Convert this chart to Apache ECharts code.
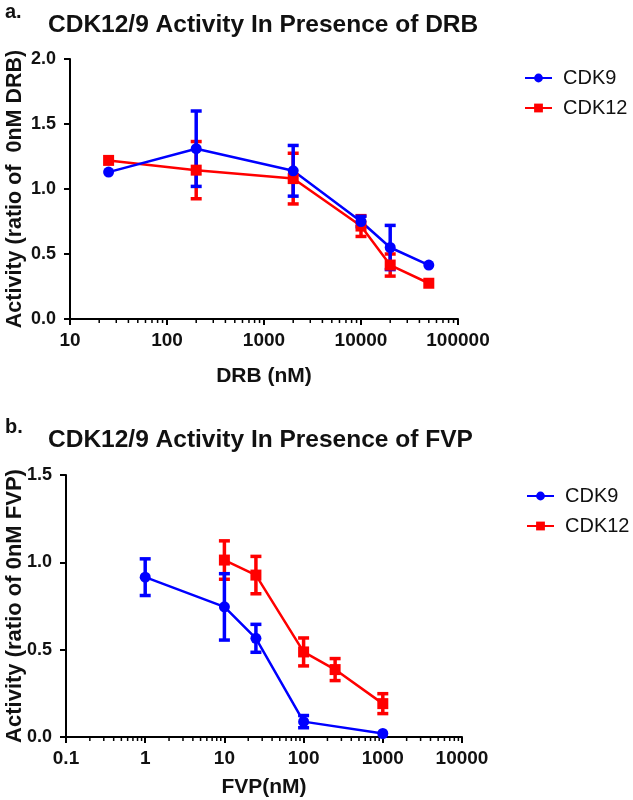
<!DOCTYPE html>
<html><head><meta charset="utf-8">
<script src="https://cdn.jsdelivr.net/npm/echarts@6/dist/echarts.min.js"></script>
<style>html,body{margin:0;padding:0;background:#fff}#c{width:633px;height:800px}</style>
</head><body><div id="c"></div>
<script>
// ---- Panel a: DRB ----
const drbDoses = [25, 200, 2000, 10000, 20000, 50000];
const drbCdk9 = [1.13, 1.31, 1.14, 0.75, 0.55, 0.415];
const drbCdk9Err = [0, 0.29, 0.195, 0.04, 0.17, 0];
const drbCdk12 = [1.22, 1.145, 1.08, 0.715, 0.415, 0.275];
const drbCdk12Err = [0, 0.22, 0.195, 0.08, 0.085, 0];
const drbDecades = [10, 100, 1000, 10000];
// ---- Panel b: FVP ----
const fvpDosesCdk9 = [1, 10, 25, 100, 1000];
const fvpCdk9 = [0.915, 0.745, 0.565, 0.088, 0.02];
const fvpCdk9Err = [0.105, 0.19, 0.08, 0.035, 0];
const fvpDosesCdk12 = [10, 25, 100, 250, 1000];
const fvpCdk12 = [1.013, 0.927, 0.487, 0.386, 0.191];
const fvpCdk12Err = [0.11, 0.107, 0.08, 0.063, 0.057];
const fvpDecades = [0.1, 1, 10, 100, 1000];
const minorMult = [2, 3, 4, 5, 6, 7, 8, 9];
const seriesNames = ['CDK9', 'CDK12'];
const titles = ['CDK12/9 Activity In Presence of DRB', 'CDK12/9 Activity In Presence of FVP'];
const xNames = ['DRB (nM)', 'FVP(nM)'];
const yNames = ['Activity (ratio of  0nM DRB)', 'Activity (ratio of 0nM FVP)'];

const F = 'Liberation Sans, Arial, Helvetica, sans-serif';
const BLUE = '#0000ff', RED = '#ff0000', INK = '#111';

function pairs(xs, ys) { return xs.map((x, i) => [x, ys[i]]); }
function triples(xs, ys, es) { return xs.map((x, i) => [x, ys[i], es[i]]); }
function minorTicks(decs) {
  const out = [];
  decs.forEach(d => minorMult.forEach(m => out.push([+(d * m).toPrecision(3), 0])));
  return out;
}
function fmtLog(v) { return v >= 1 ? String(Math.round(v)) : String(+v.toPrecision(1)); }

function errRender(color) {
  return function (params, api) {
    const x = api.value(0), y = api.value(1), e = api.value(2);
    if (!e) return null;
    const t = api.coord([x, y + e]), b = api.coord([x, y - e]);
    const hw = 5.5;
    const st = { stroke: color, lineWidth: 3.5 };
    return { type: 'group', children: [
      { type: 'line', shape: { x1: t[0], y1: t[1], x2: b[0], y2: b[1] }, style: st },
      { type: 'line', shape: { x1: t[0] - hw, y1: t[1], x2: t[0] + hw, y2: t[1] }, style: st },
      { type: 'line', shape: { x1: b[0] - hw, y1: b[1], x2: b[0] + hw, y2: b[1] }, style: st }
    ]};
  };
}
function minorRender(params, api) {
  const p = api.coord([api.value(0), 0]);
  return { type: 'line', shape: { x1: p[0], y1: p[1], x2: p[0], y2: p[1] + 4 }, style: { stroke: '#000', lineWidth: 1.5 } };
}

function xAxis(gi, min, max, name, gap) {
  return { gridIndex: gi, type: 'log', logBase: 10, min: min, max: max,
    axisLine: { show: true, lineStyle: { color: '#000', width: 2 } },
    axisTick: { show: true, length: 6, lineStyle: { color: '#000', width: 2 } },
    splitLine: { show: false },
    axisLabel: { fontSize: 19, fontWeight: 'bold', color: INK, margin: 12, fontFamily: F, formatter: fmtLog },
    name: name, nameLocation: 'middle', nameGap: gap, nameMoveOverlap: false,
    nameTextStyle: { fontSize: 21, fontWeight: 'bold', color: INK, fontFamily: F } };
}
function yAxis(gi, max, name, gap, nameSize) {
  return { gridIndex: gi, type: 'value', min: 0, max: max, interval: 0.5,
    axisLine: { show: true, lineStyle: { color: '#000', width: 2 } },
    axisTick: { show: true, length: 6, lineStyle: { color: '#000', width: 2 } },
    splitLine: { show: false },
    axisLabel: { fontSize: 18, fontWeight: 'bold', color: INK, margin: 14, fontFamily: F, formatter: v => v.toFixed(1) },
    name: name, nameLocation: 'middle', nameGap: gap, nameRotate: 90, nameMoveOverlap: false,
    nameTextStyle: { fontSize: nameSize, fontWeight: 'bold', color: INK, fontFamily: F } };
}
function lineSeries(name, gi, data, color, symbol) {
  return { name: name, type: 'line', xAxisIndex: gi, yAxisIndex: gi, data: data,
    symbol: symbol, symbolSize: 11, showSymbol: true,
    lineStyle: { color: color, width: 2.5 }, itemStyle: { color: color },
    emphasis: { disabled: true }, z: 3 };
}
function errSeries(gi, data, color) {
  return { type: 'custom', xAxisIndex: gi, yAxisIndex: gi, data: data, renderItem: errRender(color),
    encode: { x: 0, y: 1 }, clip: false, silent: true, z: 3 };
}
function minorSeries(gi, data) {
  return { type: 'custom', xAxisIndex: gi, yAxisIndex: gi, data: data, renderItem: minorRender,
    encode: { x: 0, y: 1 }, clip: false, silent: true, z: 2 };
}
function legend(top, left) {
  return { orient: 'vertical', top: top, left: left, itemGap: 10, itemWidth: 27, itemHeight: 11,
    data: seriesNames, selectedMode: false,
    textStyle: { fontSize: 20, color: INK, fontFamily: F, padding: [0, 0, 0, 6] } };
}

const option = {
  animation: false,
  backgroundColor: '#fff',
  textStyle: { fontFamily: F },
  title: [
    { text: 'a.', left: 0, top: -3, textStyle: { fontSize: 20, fontWeight: 'bold', color: INK, fontFamily: F } },
    { text: titles[0], left: 43, top: 8, textStyle: { fontSize: 24.5, fontWeight: 'bold', color: INK, fontFamily: F } },
    { text: 'b.', left: 0, top: 412, textStyle: { fontSize: 20, fontWeight: 'bold', color: INK, fontFamily: F } },
    { text: titles[1], left: 43, top: 423, textStyle: { fontSize: 24.5, fontWeight: 'bold', color: INK, fontFamily: F } }
  ],
  legend: [legend(63, 519), legend(481, 521)],
  grid: [
    { left: 70, right: 175, top: 59, bottom: 481, containLabel: false, outerBoundsMode: 'none' },
    { left: 66, right: 171, top: 475, bottom: 63, containLabel: false, outerBoundsMode: 'none' }
  ],
  xAxis: [xAxis(0, 10, 100000, xNames[0], 47), xAxis(1, 0.1, 10000, xNames[1], 40)],
  yAxis: [yAxis(0, 2, yNames[0], 44, 21.5), yAxis(1, 1.5, yNames[1], 40, 22)],
  series: [
    minorSeries(0, minorTicks(drbDecades)),
    lineSeries(seriesNames[1], 0, pairs(drbDoses, drbCdk12), RED, 'rect'),
    errSeries(0, triples(drbDoses, drbCdk12, drbCdk12Err), RED),
    lineSeries(seriesNames[0], 0, pairs(drbDoses, drbCdk9), BLUE, 'circle'),
    errSeries(0, triples(drbDoses, drbCdk9, drbCdk9Err), BLUE),
    minorSeries(1, minorTicks(fvpDecades)),
    lineSeries(seriesNames[1], 1, pairs(fvpDosesCdk12, fvpCdk12), RED, 'rect'),
    errSeries(1, triples(fvpDosesCdk12, fvpCdk12, fvpCdk12Err), RED),
    lineSeries(seriesNames[0], 1, pairs(fvpDosesCdk9, fvpCdk9), BLUE, 'circle'),
    errSeries(1, triples(fvpDosesCdk9, fvpCdk9, fvpCdk9Err), BLUE)
  ]
};
const chart = echarts.init(document.getElementById('c'), null, { renderer: 'canvas' });
chart.setOption(option);
</script></body></html>
